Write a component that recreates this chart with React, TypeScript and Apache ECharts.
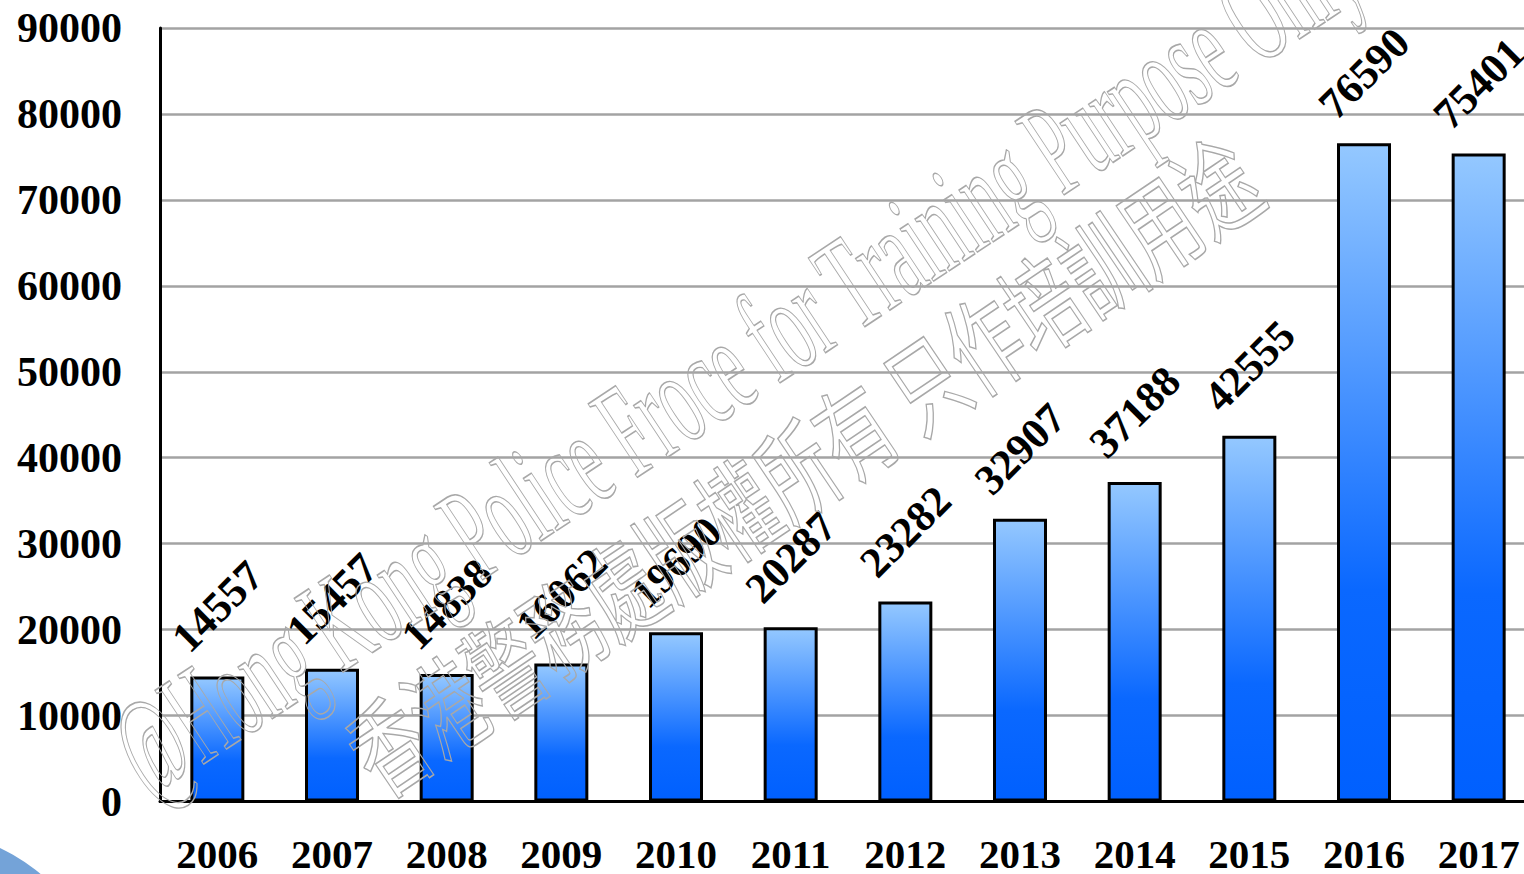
import React, { useEffect, useRef } from "react";
import * as echarts from "echarts";

const categories = ["2006", "2007", "2008", "2009", "2010", "2011", "2012", "2013", "2014", "2015", "2016", "2017"];
const values = [14557, 15457, 14838, 16062, 19690, 20287, 23282, 32907, 37188, 42555, 76590, 75401];
const yTicks = [0, 10000, 20000, 30000, 40000, 50000, 60000, 70000, 80000, 90000];
const watermarkEn = "@Hong Kong Police Froce for Training Purpose Only";
const watermarkZh = "香港警務處版權所有 只作培訓用途";

export default function App() {
  const ref = useRef<HTMLDivElement>(null);
  useEffect(() => {
    if (!ref.current) return;
    const chart = echarts.init(ref.current, undefined, { renderer: "svg" });
    const serif = '"Liberation Serif", "Times New Roman", serif';
    chart.setOption({
      animation: false,
      backgroundColor: "#ffffff",
      grid: { left: 160, top: 28, width: 1376, height: 774 },
      xAxis: {
        type: "category",
        data: categories,
        axisLine: { show: true, lineStyle: { color: "#000", width: 3 } },
        axisTick: { show: false },
        axisLabel: {
          color: "#000",
          fontFamily: serif,
          fontWeight: "bold",
          fontSize: 41,
          margin: 35,
          lineHeight: 34,
        },
      },
      yAxis: {
        type: "value",
        min: yTicks[0],
        max: yTicks[yTicks.length - 1],
        interval: yTicks[1] - yTicks[0],
        axisLine: { show: true, lineStyle: { color: "#000", width: 3 } },
        axisTick: { show: false },
        splitLine: { show: true, lineStyle: { color: "#a3a3a3", width: 2.5 } },
        axisLabel: {
          color: "#000",
          fontFamily: serif,
          fontWeight: "bold",
          fontSize: 42,
          margin: 38,
          formatter: (v: number) => String(v),
        },
      },
      series: [
        {
          type: "bar",
          data: values,
          barWidth: 54,
          z: 2,
          itemStyle: {
            color: new echarts.graphic.LinearGradient(0, 0, 0, 1, [
              { offset: 0, color: "#94C8FF" },
              { offset: 0.68, color: "#0A68FF" },
              { offset: 1, color: "#0060FF" },
            ]),
            borderColor: "#000",
            borderWidth: 3,
          },
          label: {
            show: true,
            position: "top",
            distance: 70,
            rotate: 45,
            align: "center",
            verticalAlign: "middle",
            color: "#000",
            fontFamily: serif,
            fontWeight: "bold",
            fontSize: 43,
          },
        },
      ],
      graphic: [
        {
          type: "circle",
          z: 0,
          shape: { cx: -87, cy: 1028, r: 200 },
          style: { fill: "#74a3d8" },
        },
        {
          type: "text",
          z: 100,
          x: 735,
          y: 358,
          rotation: (33.5 * Math.PI) / 180,
          scaleX: 0.5,
          style: {
            text: watermarkEn,
            font: 'normal 135px "Liberation Serif"',
            fill: "rgba(255,255,255,0)",
            stroke: "#a8a8a8",
            lineWidth: 1.6,
            align: "center",
            verticalAlign: "middle",
          },
        },
        {
          type: "text",
          z: 100,
          x: 800,
          y: 462,
          rotation: (34 * Math.PI) / 180,
          scaleX: 0.67,
          style: {
            text: watermarkZh,
            font: 'normal 105px "Noto Sans CJK TC"',
            fill: "rgba(255,255,255,0)",
            stroke: "#a8a8a8",
            lineWidth: 1.6,
            align: "center",
            verticalAlign: "middle",
          },
        },
      ],
    });
    return () => chart.dispose();
  }, []);
  return (
    <div style={{ position: "absolute", left: 0, top: 0, width: 1524, height: 874, overflow: "hidden" }}>
      <div ref={ref} style={{ width: 1540, height: 874 }} />
    </div>
  );
}
